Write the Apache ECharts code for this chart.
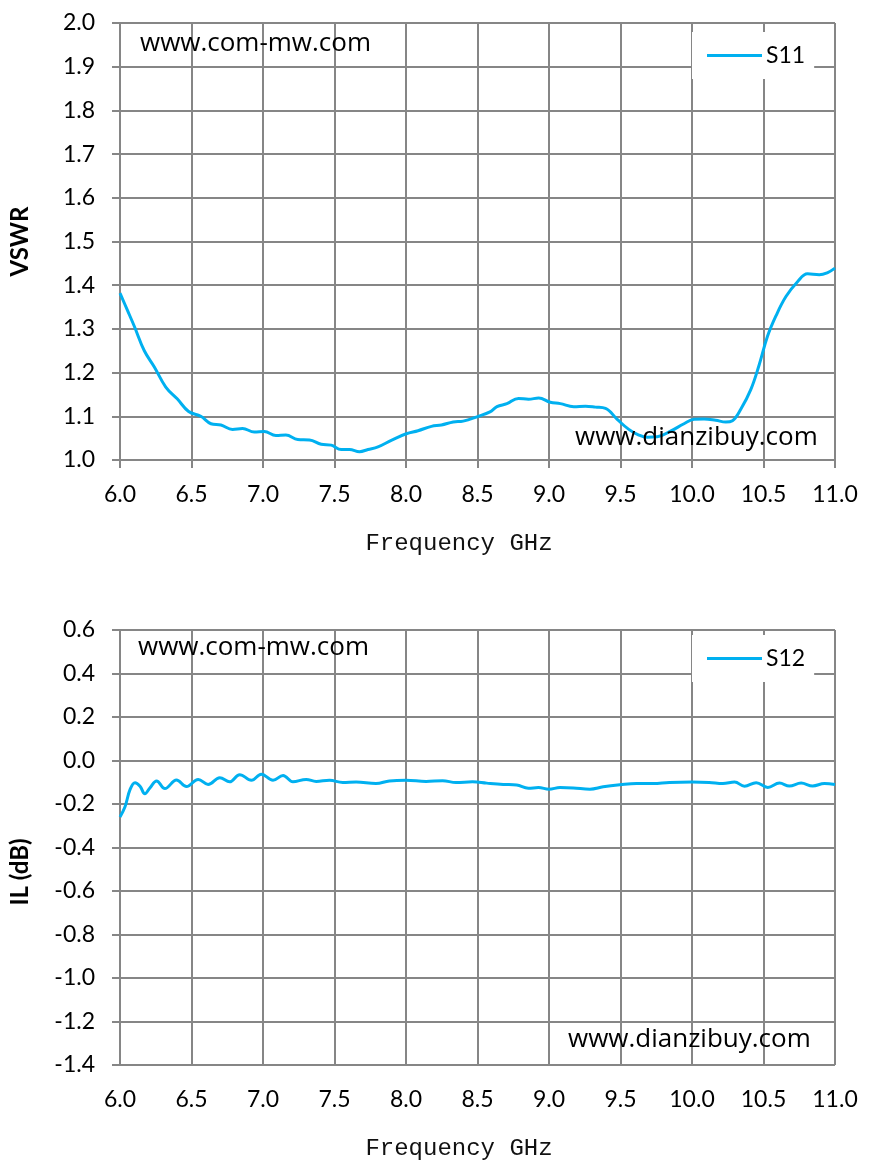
<!DOCTYPE html>
<html>
<head>
<meta charset="utf-8">
<script src="https://cdn.jsdelivr.net/npm/echarts@6/dist/echarts.min.js"></script>
<style>
html,body{margin:0;padding:0;background:#fff;}
#c{width:870px;height:1176px;}
</style>
</head>
<body>
<div id="c"></div>
<script>
// ---- data ----
const xTicks = [6.0, 6.5, 7.0, 7.5, 8.0, 8.5, 9.0, 9.5, 10.0, 10.5, 11.0];
const s11Freq = [6.0,6.05,6.1,6.17,6.24,6.32,6.4,6.48,6.565,6.636,6.706,6.787,6.857,6.939,7.009,7.09,7.16,7.243,7.325,7.407,7.477,7.547,7.605,7.675,7.734,7.804,7.897,8.002,8.084,8.178,8.248,8.33,8.4,8.505,8.587,8.636,8.706,8.787,8.857,8.928,9.009,9.079,9.173,9.255,9.325,9.395,9.477,9.558,9.628,9.687,9.757,9.85,9.944,10.014,10.084,10.166,10.236,10.283,10.341,10.411,10.47,10.528,10.586,10.657,10.738,10.808,10.89,10.949,11.0];
const s11Vswr = [1.382,1.344,1.306,1.25,1.213,1.167,1.14,1.111,1.1,1.083,1.08,1.07,1.072,1.064,1.065,1.056,1.057,1.047,1.046,1.036,1.034,1.024,1.024,1.019,1.024,1.03,1.045,1.06,1.067,1.077,1.08,1.087,1.089,1.1,1.11,1.122,1.129,1.141,1.139,1.142,1.132,1.129,1.122,1.123,1.121,1.118,1.093,1.07,1.057,1.052,1.053,1.066,1.083,1.093,1.094,1.091,1.087,1.09,1.116,1.161,1.218,1.283,1.329,1.374,1.408,1.426,1.424,1.429,1.439];
const s12Freq = [6.0,6.035,6.07,6.105,6.14,6.174,6.209,6.256,6.314,6.395,6.465,6.547,6.616,6.698,6.767,6.837,6.919,6.988,7.07,7.14,7.209,7.302,7.372,7.465,7.558,7.651,7.79,7.884,8.0,8.14,8.256,8.35,8.465,8.565,8.68,8.774,8.856,8.926,9.0,9.077,9.17,9.286,9.379,9.495,9.612,9.728,9.842,10.0,10.12,10.216,10.298,10.367,10.449,10.53,10.612,10.681,10.763,10.844,10.926,11.0];
const s12IL = [-0.26,-0.213,-0.134,-0.102,-0.118,-0.153,-0.126,-0.094,-0.129,-0.09,-0.12,-0.087,-0.11,-0.079,-0.098,-0.065,-0.091,-0.063,-0.091,-0.069,-0.098,-0.087,-0.096,-0.091,-0.101,-0.099,-0.106,-0.094,-0.091,-0.096,-0.093,-0.101,-0.098,-0.104,-0.11,-0.113,-0.128,-0.124,-0.132,-0.124,-0.126,-0.132,-0.121,-0.112,-0.106,-0.106,-0.101,-0.099,-0.101,-0.106,-0.099,-0.118,-0.102,-0.124,-0.104,-0.117,-0.104,-0.117,-0.106,-0.11];
const vswrTicks = [1.0,1.1,1.2,1.3,1.4,1.5,1.6,1.7,1.8,1.9,2.0];
const ilTicks = [-1.4,-1.2,-1.0,-0.8,-0.6,-0.4,-0.2,0.0,0.2,0.4,0.6];

// ---- styles ----
const GRAY = '#868686';
const LINE = '#00B0F0';
const LBL = {fontFamily:'Lato', fontSize:23, color:'#000'};
const fmt = v => (Math.abs(v) < 1e-9 ? 0 : v).toFixed(1);

function xAxis(gi){
  return {
    type:'value', gridIndex:gi, min:xTicks[0], max:xTicks[xTicks.length-1], interval:0.5,
    axisLine:{show:true, lineStyle:{color:GRAY, width:2}},
    axisTick:{show:true, length:8, lineStyle:{color:GRAY, width:2}},
    splitLine:{show:true, lineStyle:{color:GRAY, width:2}},
    axisLabel:Object.assign({margin:23, formatter:fmt}, LBL),
    name:'Frequency GHz', nameLocation:'middle', nameGap:72,
    nameTextStyle:{fontFamily:'Liberation Mono', fontSize:24, color:'#111', padding:[0,37,0,0]}
  };
}
function yAxis(gi, ticks, name, pad){
  return {
    type:'value', gridIndex:gi, min:ticks[0], max:ticks[ticks.length-1],
    interval:Math.round((ticks[1]-ticks[0])*10)/10,
    axisLine:{show:true, lineStyle:{color:GRAY, width:2}},
    axisTick:{show:true, length:8, lineStyle:{color:GRAY, width:2}},
    splitLine:{show:true, lineStyle:{color:GRAY, width:2}},
    axisLabel:Object.assign({margin:25, formatter:fmt}, LBL),
    name:name, nameLocation:'middle', nameRotate:90, nameGap:88,
    nameTextStyle:{fontFamily:'Lato', fontWeight:'bold', fontSize:24, color:'#000', padding:pad}
  };
}
function legend(name, top){
  return {
    data:[name], left:692, top:top, orient:'horizontal',
    backgroundColor:'#fff', padding:[12,9,12,15],
    icon:'rect', itemWidth:55, itemHeight:3, itemGap:0,
    textStyle:{fontFamily:'Lato', fontSize:23, color:'#000', padding:[0,0,0,-1]}
  };
}
function wm(text, left, top){
  return {type:'text', left:left, top:top, z:50,
    style:{text:text, fontFamily:'Open Sans', fontSize:26, fill:'#000'}};
}

const chart = echarts.init(document.getElementById('c'), null, {renderer:'canvas'});
chart.setOption({
  backgroundColor:'#fff',
  animation:false,
  grid:[
    {left:119, top:23, width:716, height:437},
    {left:119, top:630, width:716, height:435}
  ],
  xAxis:[xAxis(0), xAxis(1)],
  yAxis:[yAxis(0, vswrTicks, 'VSWR', [0,0,0,0]), yAxis(1, ilTicks, 'IL (dB)', [0,49,0,0])],
  legend:[legend('S11', 32), legend('S12', 635)],
  graphic:[
    wm('www.com-mw.com', 140, 31),
    wm('www.dianzibuy.com', 575, 425),
    wm('www.com-mw.com', 138, 635),
    wm('www.dianzibuy.com', 568, 1027)
  ],
  series:[
    {name:'S11', type:'line', xAxisIndex:0, yAxisIndex:0, smooth:0.4, showSymbol:false,
     lineStyle:{color:LINE, width:3}, itemStyle:{color:LINE},
     data:s11Freq.map((f,i)=>[f, s11Vswr[i]])},
    {name:'S12', type:'line', xAxisIndex:1, yAxisIndex:1, smooth:0.4, showSymbol:false,
     lineStyle:{color:LINE, width:3}, itemStyle:{color:LINE},
     data:s12Freq.map((f,i)=>[f, s12IL[i]])}
  ]
});
</script>
</body>
</html>
